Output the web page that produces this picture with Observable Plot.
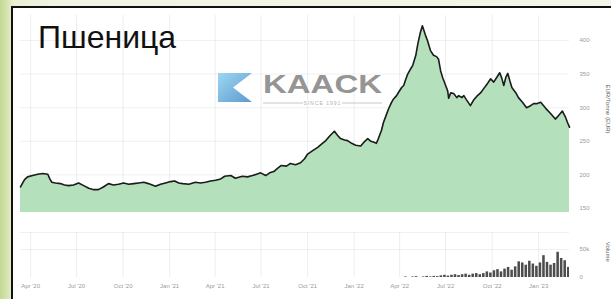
<!DOCTYPE html>
<html><head><meta charset="utf-8">
<script src="https://cdn.jsdelivr.net/npm/d3@7"></script>
<script src="https://cdn.jsdelivr.net/npm/@observablehq/plot@0.6"></script>
<style>
html,body{margin:0;padding:0;width:611px;height:299px;overflow:hidden;}
body{position:relative;background:linear-gradient(90deg,#c3d894 0px,#d9e6b4 8px,#e9f0d2 14px,#f1f4e3 60px,#f3f5e8 100%);font-family:"Liberation Sans",Arial,sans-serif;}
#frame{position:absolute;left:11px;top:6px;width:660px;height:330px;background:#fff;border:2px solid #111;box-sizing:border-box;}
.plot{position:absolute;left:0;}
#title{position:absolute;left:38px;top:21px;font-size:32px;line-height:1;color:#111;font-family:"Liberation Sans",Arial,sans-serif;}
#logo{position:absolute;left:215px;top:68px;opacity:0.9;}
</style></head>
<body>
<div id="frame"></div>
<div id="p1" class="plot" style="top:0"></div>
<div id="p2" class="plot" style="top:212px"></div>
<svg id="logo" width="175" height="42">
  <defs><linearGradient id="lg" x1="0" y1="0" x2="1" y2="1">
    <stop offset="0" stop-color="#93d3f0"/><stop offset="1" stop-color="#4d8fcb"/></linearGradient></defs>
  <polygon points="3,5 37,5 18,19.5 37,34 3,34" fill="url(#lg)"/>
  <text x="48" y="25" font-family="Liberation Sans,Arial,sans-serif" font-weight="bold" font-size="25" fill="#8a8a8a" textLength="119" lengthAdjust="spacingAndGlyphs">KAACK</text>
  <line x1="48" y1="35" x2="88" y2="35" stroke="#c4c4c4" stroke-width="1"/>
  <line x1="127" y1="35" x2="167" y2="35" stroke="#c4c4c4" stroke-width="1"/>
  <text x="107.5" y="37" text-anchor="middle" font-family="Liberation Sans,Arial,sans-serif" font-size="5" fill="#aaa" letter-spacing="1">SINCE 1991</text>
</svg>
<div id="title">Пшеница</div>
<script>
// Wheat price, EUR/Tonne
const priceDates = ["2020-03-12","2020-03-20","2020-03-26","2020-04-05","2020-04-15","2020-04-25","2020-05-05","2020-05-09","2020-05-13","2020-05-20","2020-05-30","2020-06-07","2020-06-15","2020-06-25","2020-07-05","2020-07-15","2020-07-25","2020-08-04","2020-08-13","2020-08-23","2020-09-02","2020-09-12","2020-09-22","2020-10-02","2020-10-12","2020-10-22","2020-11-01","2020-11-11","2020-11-20","2020-12-04","2020-12-14","2020-12-24","2021-01-03","2021-01-11","2021-01-19","2021-01-27","2021-02-08","2021-02-21","2021-03-03","2021-03-13","2021-03-23","2021-04-02","2021-04-12","2021-04-20","2021-05-02","2021-05-11","2021-05-25","2021-06-04","2021-06-14","2021-06-22","2021-06-30","2021-07-10","2021-07-18","2021-07-26","2021-08-03","2021-08-10","2021-08-20","2021-08-28","2021-09-07","2021-09-17","2021-09-25","2021-10-01","2021-10-11","2021-10-21","2021-10-29","2021-11-06","2021-11-15","2021-11-23","2021-11-29","2021-12-05","2021-12-13","2021-12-19","2021-12-27","2022-01-04","2022-01-14","2022-01-22","2022-01-28","2022-02-03","2022-02-08","2022-02-14","2022-02-18","2022-02-24","2022-02-28","2022-03-06","2022-03-10","2022-03-16","2022-03-20","2022-03-26","2022-03-30","2022-04-05","2022-04-09","2022-04-13","2022-04-17","2022-04-23","2022-04-27","2022-05-03","2022-05-07","2022-05-12","2022-05-16","2022-05-22","2022-05-26","2022-06-01","2022-06-07","2022-06-13","2022-06-17","2022-06-21","2022-06-25","2022-07-01","2022-07-05","2022-07-07","2022-07-11","2022-07-17","2022-07-23","2022-07-27","2022-08-02","2022-08-06","2022-08-11","2022-08-19","2022-08-25","2022-09-02","2022-09-08","2022-09-14","2022-09-20","2022-09-28","2022-10-04","2022-10-10","2022-10-16","2022-10-20","2022-10-24","2022-10-28","2022-11-01","2022-11-05","2022-11-09","2022-11-17","2022-11-22","2022-11-30","2022-12-08","2022-12-16","2022-12-22","2022-12-28","2023-01-05","2023-01-15","2023-01-25","2023-02-03","2023-02-09","2023-02-17","2023-02-23","2023-02-27","2023-03-03"];
const priceValues = [182,193,197,199,201,202,201,194,189,188,187,185,184,185,188,184,180,178,178,182,187,185,186,188,186,187,188,189,187,183,186,188,190,191,188,187,186,189,188,189,191,192,194,198,199,195,198,197,199,201,203,199,203,205,210,214,213,217,215,218,224,231,236,241,246,251,259,265,259,254,252,251,247,244,243,250,254,250,249,247,254,266,278,290,298,308,313,318,323,330,333,342,350,358,363,378,395,412,422,408,400,385,378,376,372,355,345,333,325,314,322,321,315,318,315,318,312,303,311,318,322,328,334,343,338,345,352,344,333,345,351,340,330,322,315,308,300,303,306,306,308,299,291,283,288,295,286,278,271];

// Volume, thousands (weekly)
const volumeWeeks = ["2022-04-11","2022-04-18","2022-04-25","2022-05-02","2022-05-09","2022-05-16","2022-05-23","2022-05-30","2022-06-06","2022-06-13","2022-06-20","2022-06-27","2022-07-04","2022-07-11","2022-07-18","2022-07-25","2022-08-01","2022-08-08","2022-08-15","2022-08-22","2022-08-29","2022-09-05","2022-09-12","2022-09-19","2022-09-26","2022-10-03","2022-10-10","2022-10-17","2022-10-24","2022-10-31","2022-11-07","2022-11-14","2022-11-21","2022-11-28","2022-12-05","2022-12-12","2022-12-19","2022-12-26","2023-01-02","2023-01-09","2023-01-16","2023-01-23","2023-01-30","2023-02-06","2023-02-13","2023-02-20","2023-02-27"];
const volumeValues = [1,0,1,1.5,0,1,2,1,2,1.5,3,4,2.5,4,5,3.5,5,6,4,6,7,5,7,10,8,12,14,10,15,18,13,19,28,26,22,29,24,20,26,39,27,22,25,45,34,30,18];

const priceTicks = [150,200,250,300,350,400];
const volumeTicks = [0,50];
const volumeTickLabels = ["0","50k"];
const xTickDates = ["2020-04-01","2020-07-01","2020-10-01","2021-01-01","2021-04-01","2021-07-01","2021-10-01","2022-01-01","2022-04-01","2022-07-01","2022-10-01","2023-01-01"];
const xTickLabels = ["Apr '20","Jul '20","Oct '20","Jan '21","Apr '21","Jul '21","Oct '21","Jan '22","Apr '22","Jul '22","Oct '22","Jan '23"];
const priceAxisTitle = "EUR/Tonne (EUR)";
const volumeAxisTitle = "Volume";

const price = priceDates.map((d,i)=>({date:new Date(d), v:priceValues[i]}));
const vol = volumeWeeks.map((d,i)=>({date:new Date(d), v:volumeValues[i]}));
const xTicks = xTickDates.map(d=>new Date(d));
const labelOf = new Map(xTicks.map((d,i)=>[+d, xTickLabels[i]]));
const xDomain = [new Date("2020-03-12"), new Date("2023-03-03")];
const font = "Liberation Sans, Arial, sans-serif";
const yMin = 144;

const p1 = Plot.plot({
  width:611, height:212,
  marginLeft:20, marginRight:42, marginTop:15, marginBottom:0,
  style:{background:"transparent", fontFamily:font, overflow:"visible"},
  x:{type:"utc", domain:xDomain, axis:null},
  y:{domain:[yMin,437.2], axis:null},
  marks:[
    Plot.gridX(xTicks,{stroke:"#000", strokeOpacity:0.07}),
    Plot.gridY(priceTicks,{stroke:"#000", strokeOpacity:0.06}),
    Plot.areaY(price,{x:"date", y1:yMin, y2:"v", fill:"#b5e0bc"}),
    Plot.lineY(price,{x:"date", y:"v", stroke:"#1c1c1c", strokeWidth:1.6}),
    Plot.text(priceTicks,{x:()=>xDomain[1], y:d=>d, text:d=>String(d), dx:10, textAnchor:"start", fontSize:6, fill:"#9a9a9a"}),
    Plot.text([priceAxisTitle],{x:()=>xDomain[1], y:()=>298, dx:38, rotate:90, fontSize:6, fill:"#666"})
  ]
});
document.getElementById("p1").append(p1);

const p2 = Plot.plot({
  width:611, height:87,
  marginLeft:20, marginRight:42, marginTop:20, marginBottom:22,
  style:{background:"transparent", fontFamily:font, overflow:"visible"},
  x:{type:"utc", domain:xDomain, axis:null},
  y:{domain:[0,80.36], axis:null},
  marks:[
    Plot.gridX(xTicks,{stroke:"#000", strokeOpacity:0.07}),
    Plot.gridY([50, 80.36],{stroke:"#000", strokeOpacity:0.06}),
    Plot.rectY(vol,{x:"date", y:"v", interval:d3.utcWeek, fill:"#4d4d4d", insetLeft:0.5, insetRight:0.5, clip:true}),
    Plot.text(volumeTicks,{x:()=>xDomain[1], y:d=>d, text:(d,i)=>volumeTickLabels[i], dx:10, textAnchor:"start", fontSize:6, fill:"#9a9a9a"}),
    Plot.axisX(xTicks,{anchor:"bottom", tickSize:0, tickPadding:6, fontSize:6, fill:"#9a9a9a", tickFormat:d=>labelOf.get(+d)}),
    Plot.text([volumeAxisTitle],{x:()=>xDomain[1], y:()=>46, dx:38, rotate:90, fontSize:6, fill:"#666"})
  ]
});
document.getElementById("p2").append(p2);
</script>
</body></html>
